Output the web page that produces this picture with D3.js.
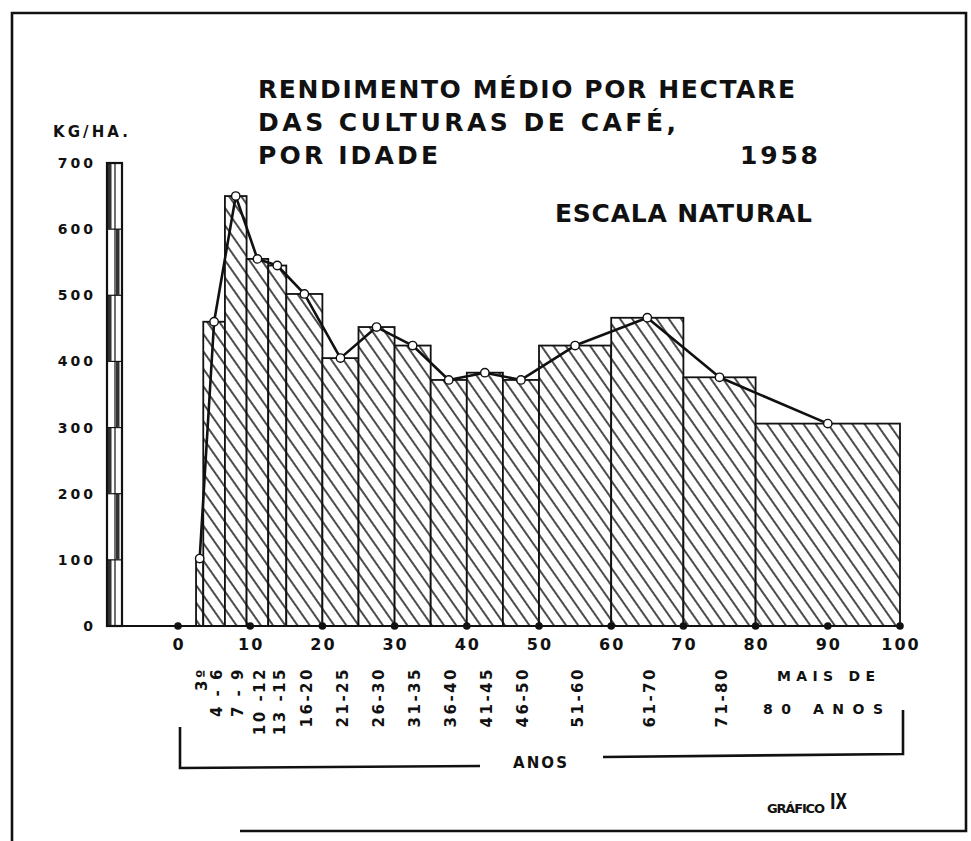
<!DOCTYPE html>
<html>
<head>
<meta charset="utf-8">
<script src="https://cdn.jsdelivr.net/npm/d3@7"></script>
<style>
  html, body { margin: 0; padding: 0; background: #fff; }
  svg { display: block; }
  text { font-family: "DejaVu Sans", sans-serif; fill: #111; font-weight: bold; }
</style>
</head>
<body>
<svg id="chart" width="971" height="841"></svg>
<script>
// ---------- data ----------
const categories = ["3º", "4 - 6", "7 - 9", "10 -12", "13 -15", "16-20", "21-25", "26-30",
  "31-35", "36-40", "41-45", "46-50", "51-60", "61-70", "71-80", "MAIS DE 80 ANOS"];
const binStart = [2.5, 3.5, 6.5, 9.5, 12.5, 15, 20, 25, 30, 35, 40, 45, 50, 60, 70, 80];
const binEnd   = [3.5, 6.5, 9.5, 12.5, 15, 20, 25, 30, 35, 40, 45, 50, 60, 70, 80, 100];
const rendimento = [102, 460, 650, 555, 545, 502, 405, 452, 424, 372, 383, 372, 424, 466, 376, 306];
const xTicks = [0, 10, 20, 30, 40, 50, 60, 70, 80, 90, 100];
const yTicks = [0, 100, 200, 300, 400, 500, 600, 700];
const titleLines = ["RENDIMENTO MÉDIO POR HECTARE", "DAS CULTURAS DE CAFÉ,", "POR IDADE"];
const lastLabel = ["MAIS DE", "80 ANOS"];

// ---------- setup ----------
const svg = d3.select("#chart");
const x = d3.scaleLinear().domain([0, 100]).range([178, 900]);
const y = d3.scaleLinear().domain([0, 700]).range([626, 163]);

const defs = svg.append("defs");
const pat = defs.append("pattern")
  .attr("id", "hatch").attr("patternUnits", "userSpaceOnUse")
  .attr("width", 10).attr("height", 10)
  .attr("patternTransform", "rotate(-35)");
pat.append("rect").attr("width", 10).attr("height", 10).attr("fill", "#fff");
pat.append("line").attr("x1", 5).attr("y1", 0).attr("x2", 5).attr("y2", 10)
  .attr("stroke", "#111").attr("stroke-width", 1.5);

// frame
svg.append("path").attr("d", "M12,841 L12,13 L966,13 L966,831 L240,831")
  .attr("fill", "none").attr("stroke", "#111").attr("stroke-width", 2.6);

// title
const tg = svg.append("g").attr("font-size", 25);
const tPos = [[258, 98, 537], [258, 131, 418], [258, 164, 180]];
titleLines.forEach((t, i) => {
  tg.append("text").attr("x", tPos[i][0]).attr("y", tPos[i][1])
    .attr("textLength", tPos[i][2]).attr("lengthAdjust", "spacing").text(t);
});
tg.append("text").attr("x", 740).attr("y", 164).attr("textLength", 78)
  .attr("lengthAdjust", "spacing").text("1958");
tg.append("text").attr("x", 555).attr("y", 222).attr("textLength", 257)
  .attr("lengthAdjust", "spacing").text("ESCALA NATURAL");

// unit label
svg.append("text").attr("x", 53).attr("y", 137).attr("font-size", 15)
  .attr("textLength", 75).attr("lengthAdjust", "spacing").text("KG/HA.");

// y axis scale bar
const ax = svg.append("g");
const bx0 = 107, bx1 = 115, bx2 = 122;
yTicks.slice(0, -1).forEach((v, i) => {
  const yTop = y(v + 100), yBot = y(v);
  ax.append("rect").attr("x", i % 2 === 0 ? bx0 + 1 : bx1 + 1).attr("y", yTop)
    .attr("width", 3.5).attr("height", yBot - yTop)
    .attr("fill", "#333");
  ax.append("line").attr("x1", bx0).attr("x2", bx2).attr("y1", yTop).attr("y2", yTop)
    .attr("stroke", "#111").attr("stroke-width", 1.2);
});
ax.append("rect").attr("x", bx0).attr("y", y(700)).attr("width", bx2 - bx0)
  .attr("height", y(0) - y(700)).attr("fill", "none").attr("stroke", "#111").attr("stroke-width", 2.2);
ax.append("line").attr("x1", bx1).attr("x2", bx1).attr("y1", y(700)).attr("y2", y(0))
  .attr("stroke", "#111").attr("stroke-width", 1.2);

// y tick labels
svg.append("g").selectAll("text").data(yTicks).join("text")
  .attr("x", 96).attr("y", d => y(d)).attr("dy", "0.36em")
  .attr("text-anchor", "end").attr("font-size", 14).attr("letter-spacing", 3)
  .text(d => d);

// bars
const idx = d3.range(categories.length);
svg.append("g").selectAll("rect").data(idx).join("rect")
  .attr("x", i => x(binStart[i])).attr("y", i => y(rendimento[i]))
  .attr("width", i => x(binEnd[i]) - x(binStart[i]))
  .attr("height", i => y(0) - y(rendimento[i]))
  .attr("fill", "url(#hatch)").attr("stroke", "#111").attr("stroke-width", 1.8);

// baseline
svg.append("line").attr("x1", bx2).attr("x2", x(100)).attr("y1", y(0)).attr("y2", y(0))
  .attr("stroke", "#111").attr("stroke-width", 2);
svg.append("g").selectAll("circle").data(xTicks).join("circle")
  .attr("cx", d => x(d)).attr("cy", y(0)).attr("r", 3.8).attr("fill", "#111");

// x tick labels
svg.append("g").selectAll("text").data(xTicks).join("text")
  .attr("x", d => x(d) + 1).attr("y", 650).attr("text-anchor", "middle")
  .attr("font-size", 16).attr("letter-spacing", 2).text(d => d);

// line with markers
const mid = i => (binStart[i] + binEnd[i]) / 2;
const line = d3.line().x(i => x(mid(i))).y(i => y(rendimento[i]));
svg.append("path").datum(idx).attr("d", line)
  .attr("fill", "none").attr("stroke", "#111").attr("stroke-width", 2.6)
  .attr("stroke-linejoin", "round");
svg.append("g").selectAll("circle").data(idx).join("circle")
  .attr("cx", i => x(mid(i))).attr("cy", i => y(rendimento[i])).attr("r", 4.2)
  .attr("fill", "#fff").attr("stroke", "#111").attr("stroke-width", 1.4);

// category labels (rotated)
const cg = svg.append("g").attr("font-size", 15).attr("letter-spacing", 2.5);
idx.slice(0, -1).forEach(i => {
  const cx = x(mid(i)) + 2;
  cg.append("text").attr("transform", `translate(${cx},667) rotate(-90)`)
    .attr("text-anchor", "end").attr("dy", "0.36em").text(categories[i]);
});
// last category label (horizontal, two lines)
svg.append("text").attr("x", 777).attr("y", 681).attr("font-size", 14)
  .attr("textLength", 98).attr("lengthAdjust", "spacing").text(lastLabel[0]);
svg.append("text").attr("x", 763).attr("y", 714).attr("font-size", 14)
  .attr("textLength", 120).attr("lengthAdjust", "spacing").text(lastLabel[1]);

// bracket with ANOS
const br = svg.append("g").attr("fill", "none").attr("stroke", "#111").attr("stroke-width", 2.6);
br.append("path").attr("d", "M180,727 L180,768 L480,766");
br.append("path").attr("d", "M603,757 L903,754 L903,710");
svg.append("text").attr("x", 513).attr("y", 768).attr("font-size", 15)
  .attr("textLength", 54).attr("lengthAdjust", "spacing").text("ANOS");

// footer
svg.append("text").attr("x", 767).attr("y", 813).attr("font-size", 13)
  .attr("textLength", 58).attr("lengthAdjust", "spacing").text("GRÁFICO");
svg.append("text").attr("x", 830).attr("y", 809).attr("font-size", 22)
  .attr("textLength", 17).attr("lengthAdjust", "spacingAndGlyphs").text("IX");
</script>
</body>
</html>
